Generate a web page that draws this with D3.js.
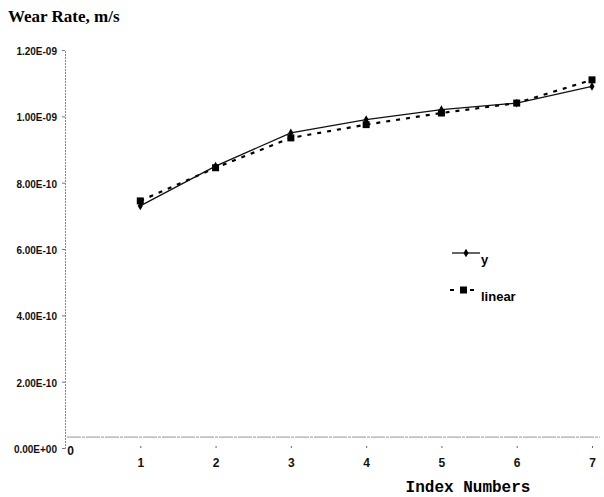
<!DOCTYPE html>
<html>
  <head>
    <meta charset="utf-8" />
    <style>
      body {
        margin: 0;
        background: #fff;
      }
      svg {
        display: block;
      }
      .title {
        font-family: "Liberation Serif", "Times New Roman", serif;
        font-weight: bold;
        font-size: 17px;
      }
      .x-title {
        font-family: "Liberation Mono", "Courier New", monospace;
        font-weight: bold;
        font-size: 16px;
      }
      .y .tick text {
        font-family: "Liberation Sans Narrow", "Arial Narrow", Arial, sans-serif;
        font-weight: bold;
        font-size: 10px;
        fill: #111;
      }
      .x .tick text {
        font-family: "Liberation Sans Narrow", "Arial Narrow", Arial, sans-serif;
        font-weight: bold;
        font-size: 12px;
        fill: #111;
      }
      .legend-text {
        font-family: "Liberation Sans Narrow", "Arial Narrow", Arial, sans-serif;
        font-weight: bold;
        font-size: 13px;
      }
    </style>
  </head>
  <body>
    <svg width="604" height="497"></svg>

    <script src="https://d3js.org/d3.v7.min.js"></script>
    <script>
      // values
      let indexes = [1, 2, 3, 4, 5, 6, 7];
      let yValues = [7.3e-10, 8.5e-10, 9.5e-10, 9.9e-10, 1.02e-9, 1.04e-9, 1.09e-9];
      let linearValues = [7.45e-10, 8.45e-10, 9.35e-10, 9.75e-10, 1.01e-9, 1.04e-9, 1.11e-9];
      let yTicks = [0, 2e-10, 4e-10, 6e-10, 8e-10, 1e-9, 1.2e-9];
      let yTickLabels = ["0.00E+00", "2.00E-10", "4.00E-10", "6.00E-10", "8.00E-10", "1.00E-09", "1.20E-09"];
      let xTicks = [0, 1, 2, 3, 4, 5, 6, 7];
      let baselineValue = 3.3e-11;

      let svg = d3.select("svg");

      let x = d3.scaleLinear().domain([0, 7]).range([65, 592]);
      let y = d3.scaleLinear().domain([0, 1.2e-9]).range([448, 50]);

      // title
      svg.append("text").attr("class", "title").attr("x", 8).attr("y", 22).text("Wear Rate, m/s");

      // y axis
      let yAxis = svg
        .append("g")
        .attr("class", "y axis")
        .attr("transform", `translate(${x(0)}, 0)`)
        .call(
          d3
            .axisLeft(y)
            .tickValues(yTicks)
            .tickSize(3)
            .tickPadding(5)
            .tickFormat((d, i) => yTickLabels[i])
        );
      yAxis.select(".domain").attr("stroke", "#888").attr("stroke-dasharray", "2,1");
      yAxis.selectAll(".tick line").attr("stroke", "#777");
      yAxis.selectAll(".tick text").attr("dy", "0.45em");

      // faint baseline line across the plot
      svg
        .append("line")
        .attr("x1", x(0) + 2)
        .attr("x2", x(7) + 8)
        .attr("y1", y(baselineValue))
        .attr("y2", y(baselineValue))
        .attr("stroke", "#aaa")
        .attr("stroke-width", 1.2)
        .attr("stroke-dasharray", "14,1,3,1");

      // x axis (ticks only)
      let xAxis = svg
        .append("g")
        .attr("class", "x axis")
        .attr("transform", `translate(0, ${y(0) - 2})`)
        .call(d3.axisBottom(x).tickValues(xTicks).tickSize(2).tickPadding(10).tickFormat(d3.format("d")));
      xAxis.select(".domain").remove();
      xAxis.selectAll(".tick line").attr("stroke", "#666");
      xAxis
        .selectAll(".tick")
        .filter((d) => d === 0)
        .call((g) => g.select("line").remove())
        .select("text")
        .attr("dx", 5)
        .attr("dy", "-0.25em");

      svg
        .append("text")
        .attr("class", "x-title")
        .attr("x", 468)
        .attr("y", 492)
        .attr("text-anchor", "middle")
        .text("Index Numbers");

      let line = d3
        .line()
        .x((d, i) => x(indexes[i]))
        .y((d) => y(d));

      // linear (dashed, squares)
      svg
        .append("path")
        .datum(linearValues)
        .attr("d", line)
        .attr("fill", "none")
        .attr("stroke", "#000")
        .attr("stroke-width", 2.2)
        .attr("stroke-dasharray", "4,6");

      svg
        .selectAll(".sq")
        .data(linearValues)
        .join("rect")
        .attr("class", "sq")
        .attr("x", (d, i) => x(indexes[i]) - 3.5)
        .attr("y", (d) => y(d) - 3.5)
        .attr("width", 7)
        .attr("height", 7)
        .attr("fill", "#000");

      // y (solid, diamonds)
      svg
        .append("path")
        .datum(yValues)
        .attr("d", line)
        .attr("fill", "none")
        .attr("stroke", "#111")
        .attr("stroke-width", 1.3);

      let diamond = d3.symbol().type(d3.symbolDiamond).size(22);
      svg
        .selectAll(".dm")
        .data(yValues)
        .join("path")
        .attr("class", "dm")
        .attr("transform", (d, i) => `translate(${x(indexes[i])}, ${y(d)})`)
        .attr("d", diamond)
        .attr("fill", "#000");

      // legend
      let legend = svg.append("g").attr("transform", "translate(452, 253)");
      legend.append("line").attr("x1", 0).attr("x2", 28).attr("stroke", "#111").attr("stroke-width", 1.3);
      legend.append("path").attr("transform", "translate(14, 0)").attr("d", diamond).attr("fill", "#000");
      legend.append("text").attr("class", "legend-text").attr("x", 29).attr("y", 11).text("y");

      let legend2 = svg.append("g").attr("transform", "translate(450, 290)");
      legend2
        .append("line")
        .attr("x1", 0)
        .attr("x2", 28)
        .attr("stroke", "#000")
        .attr("stroke-width", 2.2)
        .attr("stroke-dasharray", "4,6");
      legend2.append("rect").attr("x", 10).attr("y", -3.5).attr("width", 7).attr("height", 7).attr("fill", "#000");
      legend2.append("text").attr("class", "legend-text").attr("x", 31).attr("y", 11).text("linear");
    </script>
  </body>
</html>
